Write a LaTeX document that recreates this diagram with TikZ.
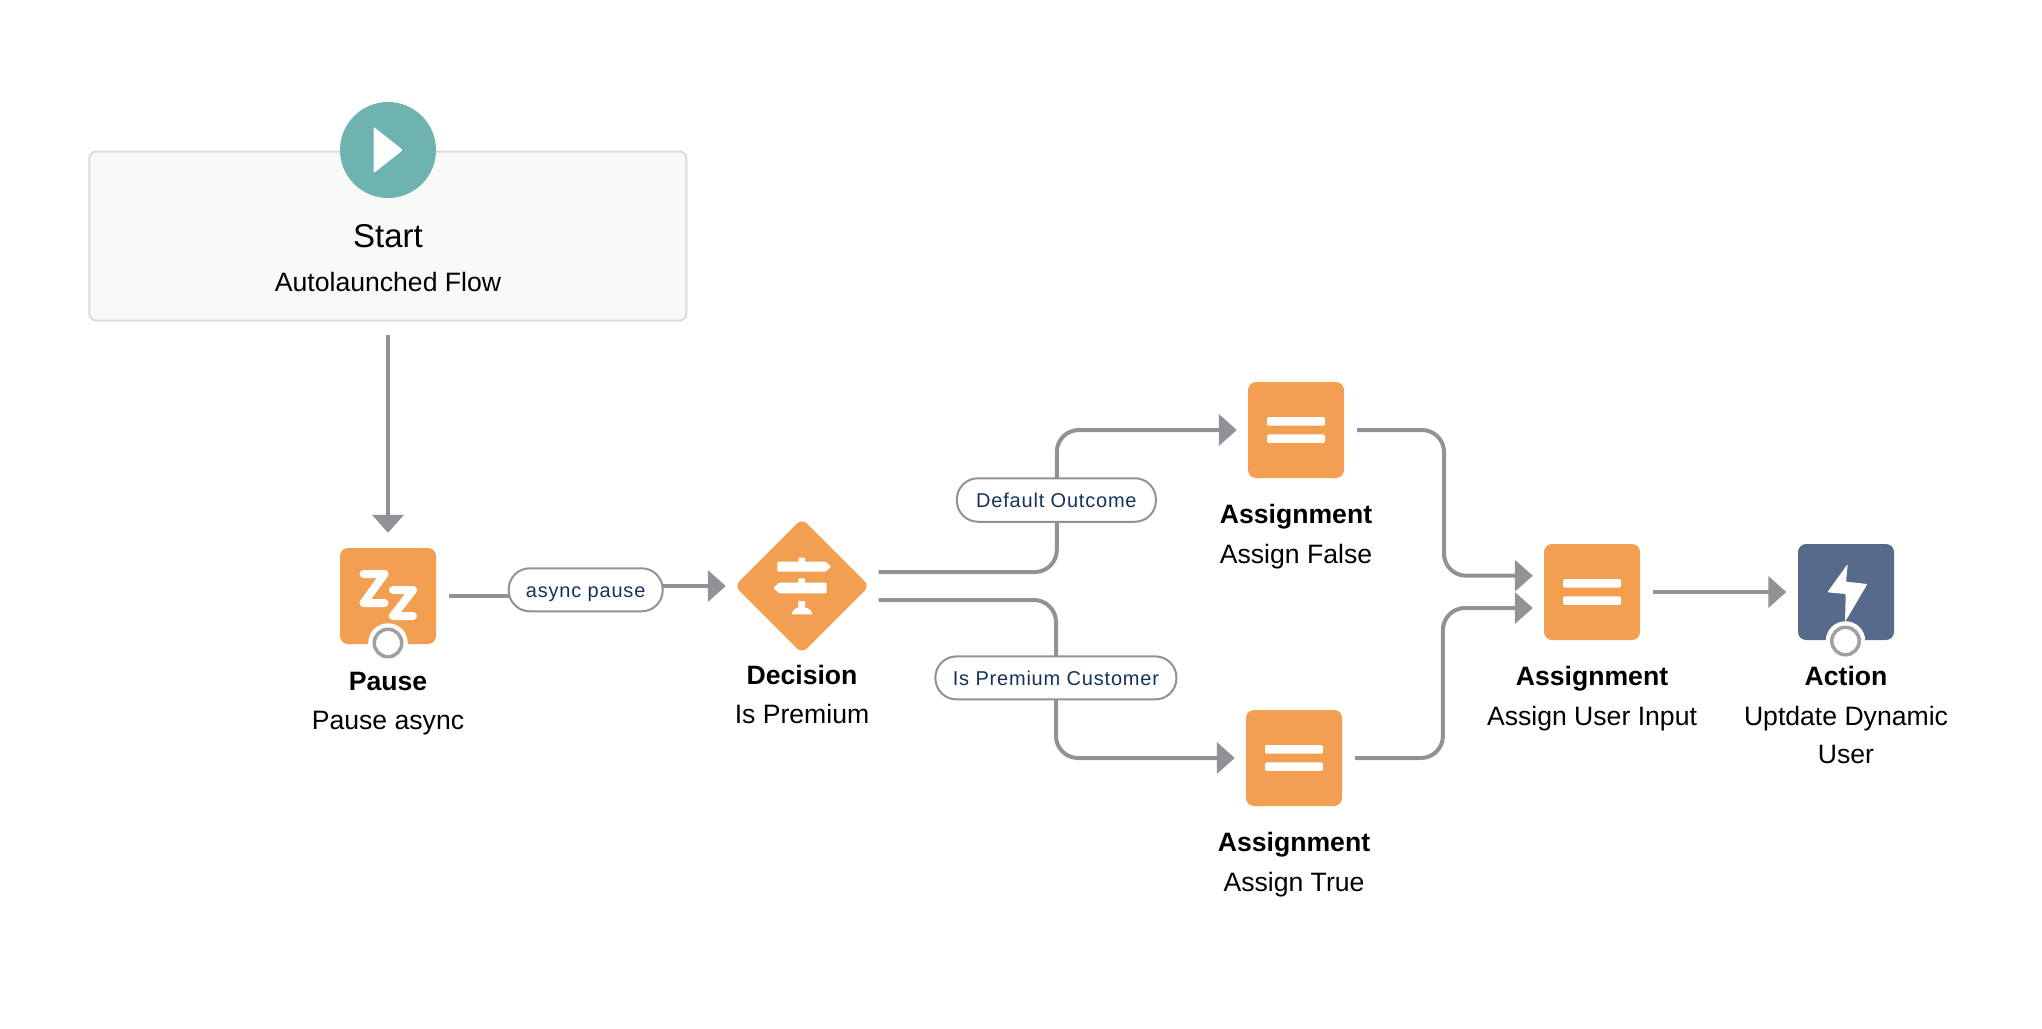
\documentclass[tikz,border=0pt]{standalone}
\usepackage{fontspec}
\setmainfont{Liberation Sans}
\usetikzlibrary{arrows.meta,shapes.geometric}
\newfontfamily\pillfont[LetterSpace=4]{Liberation Sans}
\definecolor{orangeF}{HTML}{F29F51}
\definecolor{tealF}{HTML}{6FB3B1}
\definecolor{slateF}{HTML}{586A8C}
\definecolor{edgeC}{HTML}{919297}
\definecolor{ringC}{HTML}{A0A0A0}
\definecolor{navyT}{HTML}{16325C}
\definecolor{startF}{HTML}{F9F9F7}
\definecolor{startB}{HTML}{DDDBDA}
\tikzset{
  x=1pt,y=-1pt,
  tile/.style={minimum size=96pt,inner sep=0pt,rounded corners=8pt},
  edgeln/.style={draw=edgeC,line width=4pt,rounded corners=22pt,
     -{Triangle[length=18pt,width=31pt]}},
  pill/.style={draw=edgeC,line width=2pt,fill=white,rounded corners=21pt,inner sep=0pt,
     font=\pillfont\fontsize{20}{24}\selectfont,text=navyT,text height=15pt,text depth=0pt},
  titlelbl/.style={anchor=base,inner sep=0pt,font=\bfseries\fontsize{26.6}{30}\selectfont,text=black},
  sublbl/.style={anchor=base,inner sep=0pt,font=\fontsize{26.6}{30}\selectfont,text=black},
  bar/.style={fill=white,rounded corners=2pt},
  ringW/.style={circle,fill=white,minimum size=39.5pt,inner sep=0pt},
  ringG/.style={circle,draw=ringC,fill=white,line width=3.5pt,minimum size=27.5pt,inner sep=0pt},
  zstroke/.style={white,line width=8pt,line join=round,line cap=round},
}
\begin{document}
\begin{tikzpicture}
\useasboundingbox (0,0) rectangle (2042,1028);
% start
\node (startbox) at (387.8,236) [draw=startB,fill=startF,line width=2pt,rounded corners=7pt,minimum width=597pt,minimum height=169pt,inner sep=0pt] {};
\node (startc) at (388,150) [circle,fill=tealF,minimum size=96pt,inner sep=0pt] {};
\fill[white,rounded corners=1.5pt] (373.5,126.7) -- (403,150) -- (373.5,173.3) -- cycle;
\node[anchor=base,inner sep=0pt,font=\fontsize{33}{36}\selectfont] (t0) at (388,247.7) {Start};
\node[sublbl] (s0) at (388,291.7) {Autolaunched Flow};
% tiles
\node[tile,fill=orangeF] (pause) at (388,596) {};
\node[diamond,fill=orangeF,rounded corners=7pt,inner sep=0pt,minimum width=135pt,minimum height=135pt] (dec) at (802,586) {};
\node[tile,fill=orangeF] (af) at (1296,430) {};
\node[tile,fill=orangeF] (at) at (1294,758) {};
\node[tile,fill=orangeF] (au) at (1592,592) {};
\node[tile,fill=slateF] (act) at (1846,592) {};
% bend coordinates
\coordinate (upV) at (1056.8,0);
\coordinate (loV) at (1056,0);
\coordinate (fV) at (1444,0);
\coordinate (tV) at (1442.9,0);
% edges
\draw[edgeln,shorten <=13.5pt,shorten >=15pt] (startbox.south -| startc) -- (pause.north);
\draw[edgeln,shorten <=12.5pt,shorten >=8.5pt,rounded corners=0pt]
   (pause.east) -- (585,596) -- (585,586) -- (dec.west);
\draw[edgeln,shorten <=9pt,shorten >=11pt]
   ([yshift=14pt]dec.east) -- ([yshift=14pt]dec.east -| upV) -- (af.west -| upV) -- (af.west);
\draw[edgeln,shorten <=9pt,shorten >=11pt]
   ([yshift=-14pt]dec.east) -- ([yshift=-14pt]dec.east -| loV) -- (at.west -| loV) -- (at.west);
\draw[edgeln,shorten <=13pt,shorten >=11pt]
   (af.east) -- (af.east -| fV) -- ([yshift=16.3pt]au.west -| fV) -- ([yshift=16.3pt]au.west);
\draw[edgeln,shorten <=13pt,shorten >=11pt]
   (at.east) -- (at.east -| tV) -- ([yshift=-16pt]au.west -| tV) -- ([yshift=-16pt]au.west);
\draw[edgeln,shorten <=13pt,shorten >=11.5pt] (au.east) -- (act.west);
% pills
\node[pill,minimum width=154pt,minimum height=43pt] (p1) at (585.7,589.8) {async pause};
\node[pill,minimum width=199pt,minimum height=43.5pt] (p2) at (1056.4,500) {Default Outcome};
\node[pill,minimum width=241pt,minimum height=43pt] (p3) at (1055.9,677.9) {Is Premium Customer};
% z icon
\draw[zstroke] (363.5,574) -- (384.5,574) -- (363.5,603) -- (384.5,603);
\draw[zstroke] (393,590) -- (413,590) -- (393,616) -- (413,616);
% signpost
\fill[white,rounded corners=1pt] (777.3,561.7) -- (825.7,561.7) -- (831.2,566.7) -- (825.7,571.7) -- (777.3,571.7) -- cycle;
\fill[white,rounded corners=1pt] (826.7,582.7) -- (779,582.7) -- (773.3,588) -- (779,593.3) -- (826.7,593.3) -- cycle;
\fill[white,rounded corners=1pt] (798.3,557.7) rectangle (805,563);
\fill[white,rounded corners=1pt] (798.3,578.3) rectangle (805,584);
\fill[white] (791.7,614.3) .. controls (792,610) and (796,608) .. (798.3,607.5) -- (798.3,601) -- (805,601) -- (805,607.5) .. controls (808,608) and (812,610) .. (812.3,614.3) -- cycle;
% assignment bars
\foreach \n in {af,at,au}{
  \fill[bar] ([shift={(-29pt,12.9pt)}]\n.center) rectangle ([shift={(29pt,4.3pt)}]\n.center);
  \fill[bar] ([shift={(-29pt,-4.3pt)}]\n.center) rectangle ([shift={(29pt,-12.9pt)}]\n.center);
}
% bolt
\fill[white,rounded corners=1pt] (1847.7,564) -- (1827.3,592.3) -- (1845.7,594) -- (1845,622) -- (1867.3,584) -- (1846,581.7) -- cycle;
% rings
\node[ringW] at (388,643) {};
\node[ringG] (pr) at (388,643) {};
\node[ringW] at (1845.5,641) {};
\node[ringG] (ar) at (1845.5,641) {};
% labels
\node[titlelbl] (l1) at (388,690) {Pause};
\node[sublbl] (l1b) at (388,729) {Pause async};
\node[titlelbl] (l2) at (802,684) {Decision};
\node[sublbl] (l2b) at (802,723) {Is Premium};
\node[titlelbl] (l3) at (1296,523.6) {Assignment};
\node[sublbl] (l3b) at (1296,563.6) {Assign False};
\node[titlelbl] (l4) at (1294,851.8) {Assignment};
\node[sublbl] (l4b) at (1294,891.4) {Assign True};
\node[titlelbl] (l5) at (1592,685.7) {Assignment};
\node[sublbl] (l5b) at (1592,725) {Assign User Input};
\node[titlelbl] (l6) at (1846,685.7) {Action};
\node[sublbl] (l6b) at (1846,725) {Uptdate Dynamic};
\node[sublbl] (l6c) at (1846,763) {User};
\end{tikzpicture}
\end{document}
